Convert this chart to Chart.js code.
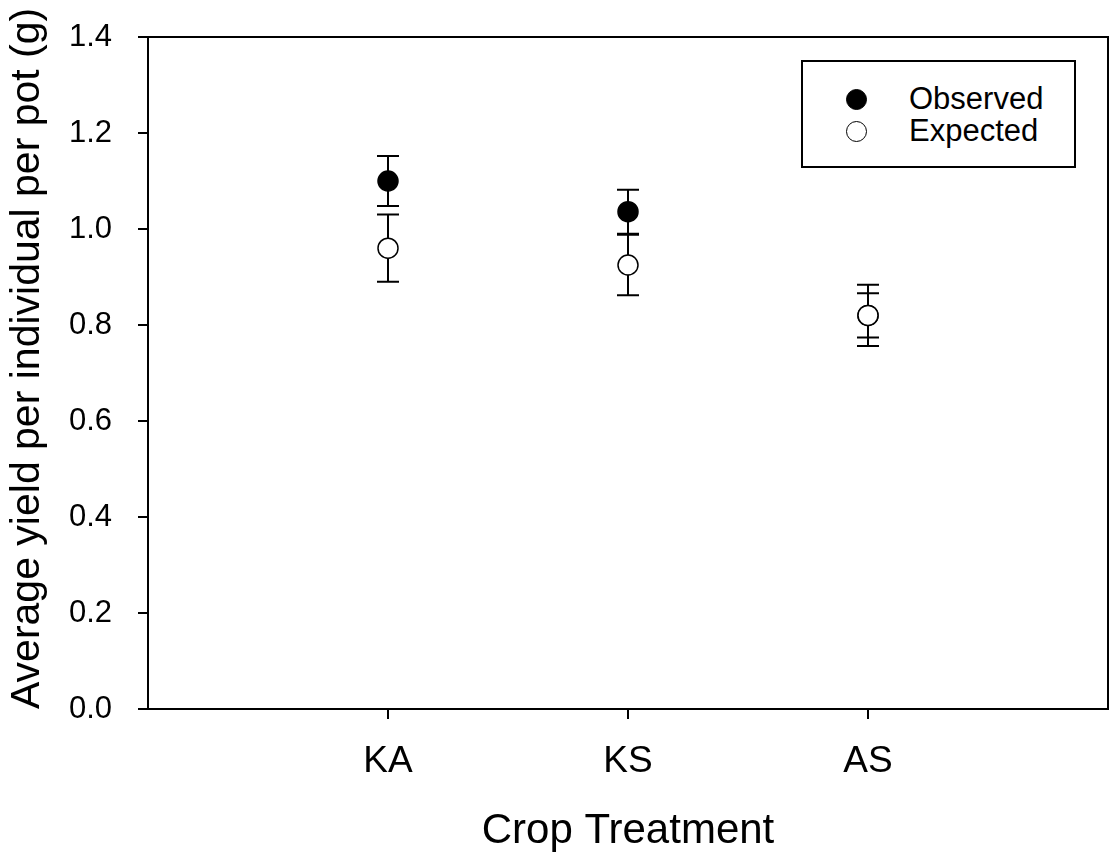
<!DOCTYPE html>
<html>
<head>
<meta charset="utf-8">
<script src="https://cdn.jsdelivr.net/npm/chart.js@4/dist/chart.umd.min.js"></script>
<style>
  body { margin: 0; background: #fff; }
  #wrap { position: relative; width: 1110px; height: 863px; }
  #legend {
    position: absolute; left: 801px; top: 60px; width: 275px; height: 108px;
    box-sizing: border-box; border: 2px solid #000; background: #fff;
    font-family: "Liberation Sans", Arial, sans-serif; font-size: 31px; color: #000;
  }
  .item { position: absolute; left: 0; height: 30px; line-height: 30px; }
  .dot { position: absolute; left: 43px; top: 5px; width: 21px; height: 21px; border-radius: 50%; box-sizing: border-box; border: 1.5px solid #000; }
  .lbl { position: absolute; left: 106px; top: 0; white-space: nowrap; }
</style>
</head>
<body>
<div id="wrap">
  <canvas id="chart" width="1110" height="863"></canvas>
  <div id="legend">
    <div class="item" style="top:22px"><span class="dot" style="background:#000"></span><span class="lbl">Observed</span></div>
    <div class="item" style="top:54px"><span class="dot" style="background:#fff"></span><span class="lbl">Expected</span></div>
  </div>
</div>
<script>
// values
const categories = ['KA', 'KS', 'AS'];
const observed = [1.10, 1.036, 0.82];
const observedErr = [0.052, 0.046, 0.046];
const expected = [0.96, 0.925, 0.82];
const expectedErr = [0.07, 0.063, 0.064];
const yTicks = [0, 0.2, 0.4, 0.6, 0.8, 1.0, 1.2, 1.4];

const font = '"Liberation Sans", Arial, sans-serif';
Chart.defaults.color = '#000';
Chart.defaults.font.family = font;

// error bars, drawn under the points
const errorBars = {
  id: 'errorBars',
  beforeDatasetsDraw(chart) {
    const { ctx, scales: { x, y } } = chart;
    ctx.save();
    ctx.strokeStyle = '#000';
    ctx.lineWidth = 2;
    chart.data.datasets.forEach(ds => {
      ds.data.forEach((p, i) => {
        const px = x.getPixelForValue(p.x);
        const top = y.getPixelForValue(p.y + ds.err[i]);
        const bot = y.getPixelForValue(p.y - ds.err[i]);
        ctx.beginPath();
        ctx.moveTo(px, top); ctx.lineTo(px, bot);
        ctx.moveTo(px - 11, top); ctx.lineTo(px + 11, top);
        ctx.moveTo(px - 11, bot); ctx.lineTo(px + 11, bot);
        ctx.stroke();
      });
    });
    ctx.restore();
  }
};

// closes the frame on top and right
const frame = {
  id: 'frame',
  afterDraw(chart) {
    const { ctx, chartArea: a } = chart;
    ctx.save();
    ctx.strokeStyle = '#000';
    ctx.lineWidth = 2;
    ctx.beginPath();
    ctx.moveTo(a.left, a.top); ctx.lineTo(a.right, a.top); ctx.lineTo(a.right, a.bottom);
    ctx.stroke();
    ctx.restore();
  }
};

new Chart(document.getElementById('chart'), {
  type: 'scatter',
  data: {
    datasets: [
      {
        label: 'Observed',
        data: categories.map((c, i) => ({ x: i + 1, y: observed[i] })),
        err: observedErr,
        pointRadius: 10,
        pointBackgroundColor: '#000',
        pointBorderColor: '#000',
        pointBorderWidth: 1.5,
        order: 2
      },
      {
        label: 'Expected',
        data: categories.map((c, i) => ({ x: i + 1, y: expected[i] })),
        err: expectedErr,
        pointRadius: 10,
        pointBackgroundColor: '#fff',
        pointBorderColor: '#000',
        pointBorderWidth: 1.5,
        order: 1
      }
    ]
  },
  options: {
    responsive: false,
    animation: false,
    layout: { autoPadding: false, padding: { top: 37, right: 2, left: 0, bottom: 0 } },
    plugins: { legend: { display: false }, tooltip: { enabled: false } },
    scales: {
      x: {
        type: 'linear',
        min: 0,
        max: categories.length + 1,
        afterBuildTicks: s => { s.ticks = categories.map((c, i) => ({ value: i + 1 })); },
        afterFit: s => { s.height = 154; s.paddingLeft = 0; s.paddingRight = 0; },
        ticks: {
          callback: v => categories[v - 1],
          font: { size: 37 },
          padding: 21,
          maxRotation: 0
        },
        grid: { drawOnChartArea: false, drawTicks: true, tickLength: 10, color: '#000', lineWidth: 2 },
        border: { display: true, color: '#000', width: 2 },
        title: { display: true, text: 'Crop Treatment', font: { size: 42 }, padding: { top: 0, bottom: 6 } }
      },
      y: {
        min: 0,
        max: 1.4,
        afterBuildTicks: s => { s.ticks = yTicks.map(v => ({ value: v })); },
        afterFit: s => { s.width = 148; s.paddingTop = 0; s.paddingBottom = 0; },
        ticks: {
          callback: v => v.toFixed(1),
          font: { size: 31 },
          padding: 26
        },
        grid: { drawOnChartArea: false, drawTicks: true, tickLength: 10, color: '#000', lineWidth: 2 },
        border: { display: true, color: '#000', width: 2 },
        title: { display: true, align: 'start', text: 'Average yield per individual per pot (g)', font: { size: 41 }, padding: { top: 3, bottom: 0 } }
      }
    }
  },
  plugins: [errorBars, frame]
});
</script>
</body>
</html>
